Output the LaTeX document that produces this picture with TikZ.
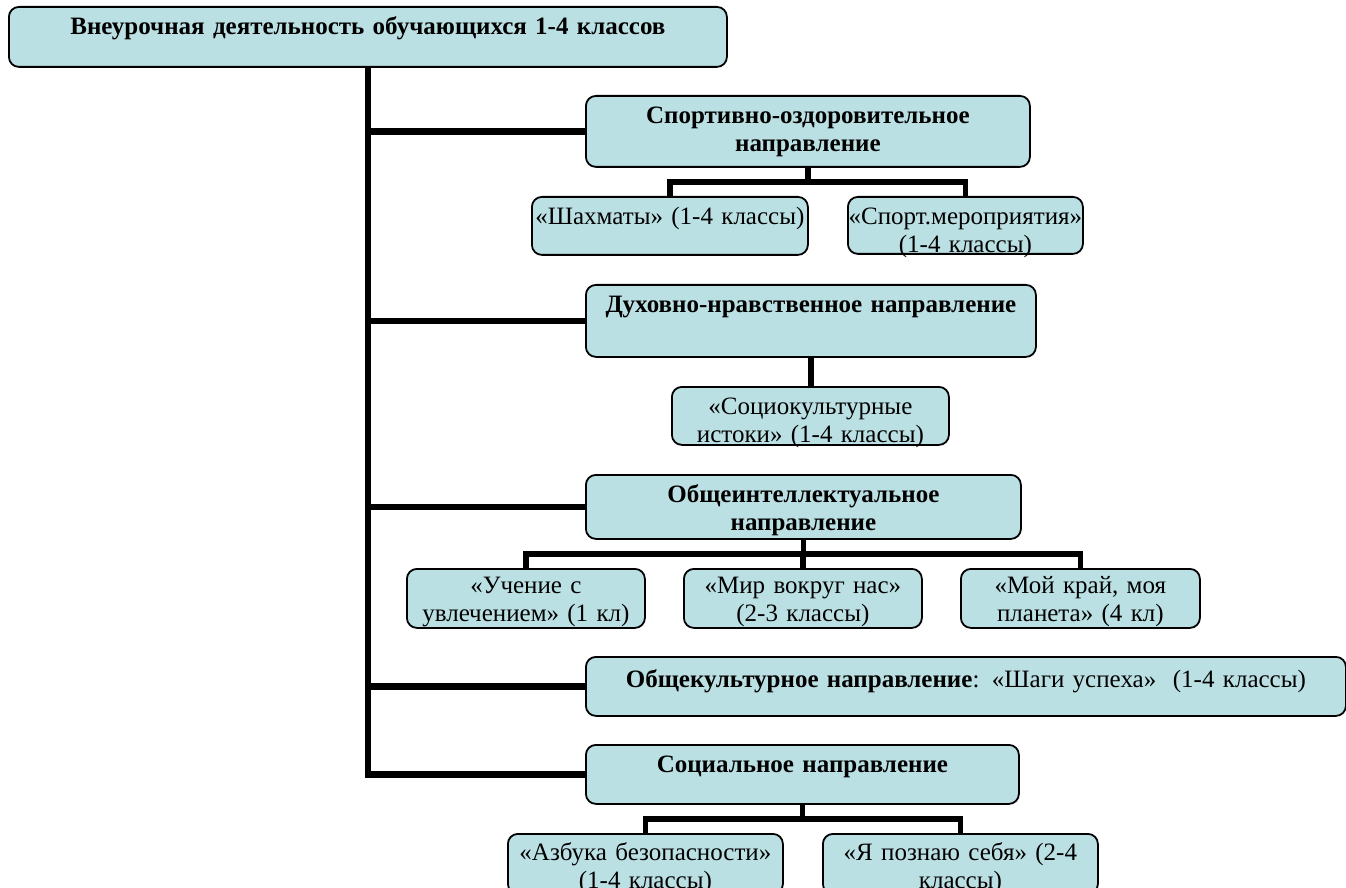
\documentclass[tikz,border=0pt]{standalone}
\usepackage{fontspec}
\setmainfont{Liberation Serif}
\usepackage{tikz}
\usetikzlibrary{calc}
\definecolor{boxfill}{RGB}{187,224,228}
\def\elbow(#1)(#2){\draw[link] (#1.south) |- ($(#1.south)!0.5!(#2.north)$) -| (#2.north);}
\tikzset{
	box/.style={draw, fill=boxfill, rounded corners=5pt, line width=0.9pt, anchor=north west,
		align=center, inner sep=0pt, text height=14pt, font=\fontsize{12.5}{14}\selectfont},
	head/.style={box, font=\fontsize{12.5}{14}\selectfont\bfseries},
	trunk/.style={line width=3.2pt},
	link/.style={line width=2.7pt}
}

\begin{document}
\begin{tikzpicture}[x=1pt, y=-1pt]
		%%%%% START %%%%%
		\useasboundingbox (0,0) rectangle (673,444);
		
		\node[head, text width=359pt, text depth=16pt] (root) at (4,3) {Внеурочная деятельность обучающихся 1-4 классов};
		
		\node[head, text width=222pt, text depth=21.5pt] (sport) at (292.5,47.5) {Спортивно-оздоровительное\\направление};
		\node[box, text width=138pt, text depth=15pt] (chess) at (265.5,98) {«Шахматы» (1-4 классы)};
		\node[box, text width=117.5pt, text depth=14.5pt] (events) at (423.5,98) {«Спорт.мероприятия»\\(1-4 классы)};
		
		\node[head, text width=225pt, text depth=22pt] (spirit) at (292.5,142) {Духовно-нравственное направление};
		\node[box, text width=138.5pt, text depth=15pt] (roots) at (335.5,193) {«Социокультурные\\истоки» (1-4 классы)};
		
		\node[head, text width=217.5pt, text depth=18pt] (intel) at (292.5,237) {Общеинтеллектуальное\\направление};
		\node[box, text width=119pt, text height=12.5pt, text depth=17pt] (study) at (203,284) {«Учение с\\увлечением» (1 кл)};
		\node[box, text width=119pt, text height=12.5pt, text depth=17pt] (world) at (341.5,284) {«Мир вокруг нас»\\(2-3 классы)};
		\node[box, text width=119.5pt, text height=12.5pt, text depth=17pt] (land) at (480,284) {«Мой край, моя\\планета» (4 кл)};
		
		\node[box, text width=380pt, text height=15.5pt, text depth=14pt] (cult) at (292.5,328) {\textbf{Общекультурное направление}: «Шаги успеха»\ \ (1-4 классы)};
		
		\node[head, text width=216.5pt, text depth=15.5pt] (soc) at (292.5,372) {Социальное направление};
		\node[box, text width=137.5pt, text height=13.5pt, text depth=16.5pt] (safety) at (253.5,416.5) {«Азбука безопасности»\\(1-4 классы)};
		\node[box, text width=137.5pt, text height=13.5pt, text depth=16.5pt] (self) at (411,416.5) {«Я познаю себя» (2-4\\классы)};
		
		% trunk and branches
		\draw[trunk] (root.south) |- (soc.west);
		\foreach \n in {sport,spirit,intel,cult}
			\draw[trunk] (root.south |- \n.west) -- (\n.west);
		
		\elbow(sport)(chess)
		\elbow(sport)(events)
		\draw[link] (spirit.south) -- (spirit.south |- roots.north);
		\elbow(intel)(study)
		\elbow(intel)(world)
		\elbow(intel)(land)
		\elbow(soc)(safety)
		\elbow(soc)(self)
		
		%%%%% END %%%%%
	\end{tikzpicture}
\end{document}
